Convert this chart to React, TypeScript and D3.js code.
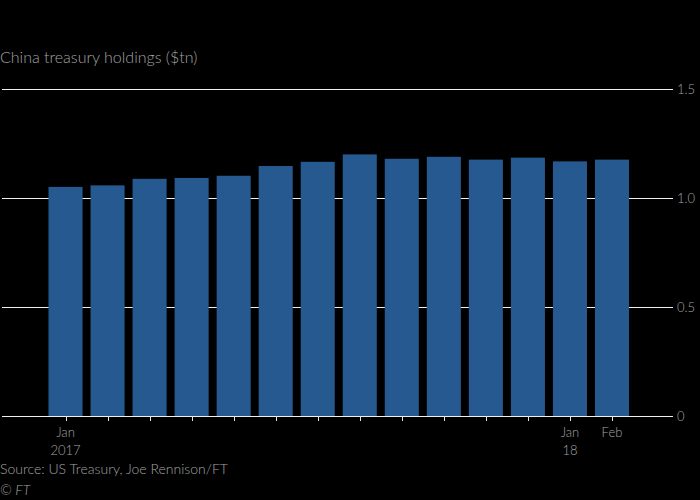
import React from 'react'
import * as d3 from 'd3'

const months = ['Jan', 'Feb', 'Mar', 'Apr', 'May', 'Jun', 'Jul', 'Aug', 'Sep', 'Oct', 'Nov', 'Dec', 'Jan', 'Feb']
const years = ['2017', '', '', '', '', '', '', '', '', '', '', '', '18', '']
const holdings = [1.051, 1.058, 1.088, 1.092, 1.102, 1.147, 1.166, 1.2, 1.18, 1.189, 1.176, 1.185, 1.168, 1.176]
const yTicks = [0, 0.5, 1.0, 1.5]
const labelled = [0, 12, 13]

const W = 700
const H = 500
const font = 'Lato, "Open Sans", sans-serif'
const textColor = '#a3a3a3'

export default function App() {
  const keys = months.map((_, i) => String(i))
  const x = d3.scaleBand().domain(keys).range([48.5, 629]).paddingInner(0.19).paddingOuter(0)
  const y = d3.scaleLinear().domain([0, 1.5]).range([416, 89])

  return (
    <>
      <style>{'body{margin:0;background:#000}'}</style>
      <svg width={W} height={H} style={{ display: 'block', background: '#000' }}>
        <rect width={W} height={H} fill="#000" />
        <text x={0} y={63} fill={textColor} fontFamily={font} fontSize={16} fontWeight={300}>
          China treasury holdings ($tn)
        </text>

        {yTicks.map((t) => (
          <g key={t}>
            <line x1={2} x2={673} y1={y(t) + 0.5} y2={y(t) + 0.5} stroke="#f0f0f0" strokeWidth={1} />
            <text x={677} y={y(t)} dy="0.35em" fill={textColor} fontFamily={font} fontSize={13} fontWeight={300}>
              {t === 0 ? '0' : t.toFixed(1)}
            </text>
          </g>
        ))}

        {holdings.map((v, i) => (
          <rect
            key={i}
            x={x(keys[i])}
            y={y(v)}
            width={x.bandwidth()}
            height={y(0) - y(v)}
            fill="#26598f"
          />
        ))}

        <line x1={2} x2={673} y1={y(0) + 0.5} y2={y(0) + 0.5} stroke="#f0f0f0" strokeWidth={1} />
        {keys.map((k) => {
          const cx = Math.round((x(k) ?? 0) + x.bandwidth() / 2) + 0.5
          return <line key={k} x1={cx} x2={cx} y1={y(0)} y2={y(0) + 5} stroke="#e6e6e6" />
        })}

        {labelled.map((i) => {
          const cx = (x(keys[i]) ?? 0) + x.bandwidth() / 2
          return (
            <text key={i} x={cx} textAnchor="middle" fill={textColor} fontFamily={font} fontSize={13} fontWeight={300}>
              <tspan x={cx} y={437}>{months[i]}</tspan>
              {years[i] ? <tspan x={cx} y={455}>{years[i]}</tspan> : null}
            </text>
          )
        })}

        <text x={0} y={474} fill={textColor} fontFamily={font} fontSize={14} fontWeight={300}>
          Source: US Treasury, Joe Rennison/FT
        </text>
        <text x={0} y={495} fill={textColor} fontFamily={font} fontSize={14} fontStyle="italic" fontWeight={300}>
          © FT
        </text>
      </svg>
    </>
  )
}
